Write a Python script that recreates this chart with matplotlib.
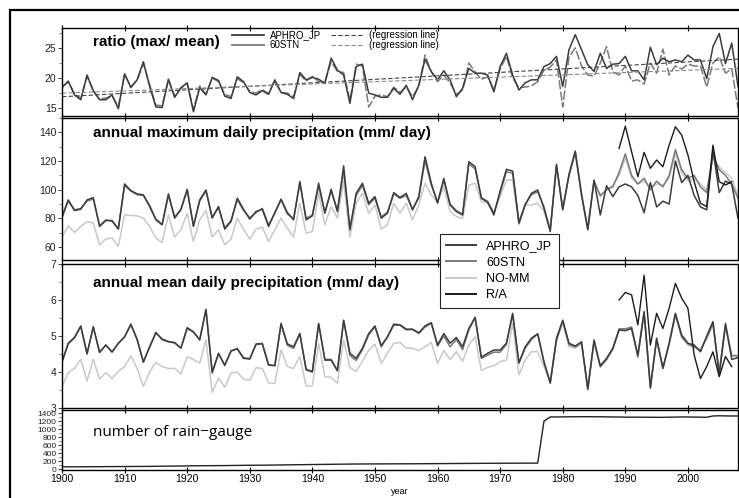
import numpy as np
import matplotlib
matplotlib.use('Agg')
import matplotlib.pyplot as plt
from matplotlib.lines import Line2D
from matplotlib.patches import Rectangle

plt.rcParams['font.family'] = 'Liberation Sans'

years = np.arange(1900, 2009)
ra_years = np.arange(1989, 2008)

# ratio (max/mean)
ratio_aphro = [18.4, 19.5, 17.2, 16.4, 20.5, 17.9, 16.4, 16.4, 17.2, 14.9,
               20.7, 18.4, 19.7, 22.7, 18.6, 15.2, 15.1, 19.8, 16.8, 18.4,
               19.2, 14.4, 18.4, 17.2, 20.1, 19.6, 17.0, 16.6, 20.2, 19.4,
               17.6, 17.2, 17.9, 17.3, 19.7, 17.6, 17.3, 16.6, 20.9, 19.7,
               20.1, 19.8, 19.1, 23.3, 21.3, 20.5, 15.8, 21.9, 22.3, 17.5,
               17.2, 16.8, 16.8, 18.3, 17.3, 18.8, 16.4, 18.8, 23.1, 21.1,
               19.7, 21.2, 19.7, 16.9, 18.3, 21.6, 20.8, 20.8, 20.5, 17.7,
               21.9, 24.1, 20.5, 18.0, 19.2, 19.7, 19.7, 21.9, 22.4, 23.6,
               18.6, 24.7, 27.2, 24.7, 22.2, 21.1, 24.1, 21.6, 22.3, 22.4,
               23.6, 21.2, 21.2, 19.7, 25.1, 22.2, 23.3, 22.7, 23.0, 22.7,
               23.8, 23.0, 23.0, 19.9, 25.2, 27.4, 22.4, 25.8, 18.6]
ratio_60stn = [18.6, 19.3, 17.4, 16.6, 20.3, 17.8, 16.5, 16.7, 17.0, 15.2,
               20.6, 18.6, 19.6, 22.4, 18.9, 15.5, 15.4, 19.7, 17.0, 18.3,
               19.1, 14.8, 18.7, 17.3, 20.0, 19.4, 17.3, 16.9, 19.9, 19.2,
               17.8, 17.5, 18.1, 17.4, 19.5, 17.6, 17.5, 16.9, 20.6, 19.5,
               20.3, 19.4, 19.4, 22.7, 21.1, 20.9, 16.3, 22.3, 22.0, 15.2,
               17.0, 17.2, 16.9, 18.5, 17.6, 18.5, 16.9, 18.6, 23.8, 21.0,
               19.4, 20.5, 19.2, 17.3, 18.0, 22.5, 21.0, 19.8, 20.2, 18.1,
               21.5, 23.6, 20.0, 18.4, 18.5, 18.7, 19.4, 21.3, 21.8, 23.0,
               15.2, 23.5, 25.0, 22.0, 20.5, 20.3, 22.5, 25.2, 21.0, 20.5,
               22.0, 19.5, 19.7, 19.0, 22.5, 20.8, 24.8, 20.5, 22.0, 21.5,
               22.3, 22.0, 22.0, 18.5, 22.5, 23.5, 20.8, 21.5, 15.0]

# annual maximum daily precipitation (mm/day)
max_aphro = [81.3, 92.9, 85.5, 86.4, 92.9, 94.5, 74.4, 78.5, 78.5, 72.5,
             104.0, 99.4, 97.1, 96.4, 88.3, 79.0, 75.5, 97.1, 80.2, 86.4,
             100.3, 74.4, 92.9, 99.9, 80.2, 88.3, 72.5, 77.8, 94.1, 86.4,
             79.5, 84.8, 86.4, 74.4, 84.1, 93.4, 84.1, 79.0, 105.7, 79.0,
             81.8, 104.5, 83.6, 100.3, 84.8, 116.6, 72.1, 97.6, 104.5, 90.6,
             95.2, 80.2, 83.6, 98.0, 94.5, 97.5, 85.9, 95.2, 123.0, 104.5,
             90.6, 107.9, 89.4, 84.8, 82.4, 119.5, 116.1, 94.0, 91.2, 82.4,
             99.1, 114.2, 113.0, 76.6, 89.4, 97.5, 99.8, 87.1, 70.8, 117.7,
             85.9, 110.7, 127.0, 96.3, 72.0, 106.8, 82.4, 102.8, 95.2, 102.0,
             104.0, 102.0, 96.0, 84.0, 105.0, 88.0, 92.0, 90.0, 120.0, 105.0,
             110.0, 96.0, 88.0, 86.0, 128.0, 98.0, 106.0, 104.0, 80.0]
max_60stn = [80.5, 92.0, 86.0, 87.0, 92.0, 93.5, 75.0, 79.0, 78.0, 73.0,
             103.0, 99.0, 96.5, 96.0, 89.0, 79.5, 76.0, 96.0, 81.0, 86.0,
             99.5, 75.0, 92.0, 99.0, 81.0, 87.5, 73.5, 78.5, 93.0, 85.5,
             80.5, 84.0, 87.0, 75.5, 83.5, 93.0, 83.0, 80.0, 104.5, 80.0,
             82.5, 102.5, 84.5, 99.0, 85.5, 113.0, 73.0, 96.0, 103.0, 89.5,
             94.0, 81.0, 84.5, 97.0, 94.0, 96.0, 86.5, 94.0, 120.5, 103.0,
             91.5, 106.5, 90.0, 85.5, 83.0, 118.0, 114.5, 94.5, 92.0, 83.5,
             98.0, 112.5, 111.5, 77.5, 90.0, 96.5, 98.5, 88.0, 72.0, 116.5,
             87.0, 110.0, 126.0, 97.0, 73.0, 106.0, 96.0, 100.0, 102.0, 112.0,
             125.0, 110.0, 104.0, 108.0, 100.0, 106.0, 102.0, 110.0, 128.0, 114.0,
             108.0, 110.0, 102.0, 98.0, 124.0, 114.0, 110.0, 104.0, 94.0]
max_nomm = [67.0, 74.8, 70.2, 74.4, 77.8, 76.7, 61.6, 65.6, 66.3, 60.5,
            82.5, 82.0, 81.8, 80.2, 74.4, 66.3, 63.2, 82.5, 67.0, 72.1,
            83.6, 63.9, 79.0, 85.5, 67.0, 72.1, 61.6, 65.6, 80.2, 72.5,
            65.6, 72.5, 73.9, 63.9, 72.1, 80.2, 73.2, 67.0, 90.6, 69.7,
            70.9, 97.6, 75.5, 88.3, 80.2, 105.7, 67.0, 90.6, 97.6, 83.6,
            89.4, 72.5, 75.5, 90.6, 83.6, 90.6, 79.0, 89.4, 104.5, 96.3,
            91.2, 102.1, 84.8, 81.3, 80.1, 103.3, 104.5, 91.7, 90.6, 84.8,
            95.2, 106.8, 106.8, 75.5, 89.4, 89.4, 90.6, 84.8, 73.0, 116.0,
            86.0, 110.0, 125.0, 97.0, 73.0, 106.0, 95.0, 100.0, 103.0, 110.0,
            122.0, 108.0, 104.0, 106.0, 101.0, 104.0, 103.0, 108.0, 125.0, 112.0,
            106.0, 108.0, 104.0, 100.0, 122.0, 116.0, 112.0, 108.0, 96.0]
max_ra = [128.8, 144.3, 126.5, 109.1, 126.0, 114.9, 120.7, 116.0, 131.1, 143.9,
          138.1, 124.2, 105.6, 90.6, 88.2, 131.1, 105.6, 103.3, 105.6]

# annual mean daily precipitation (mm/day)
mean_aphro = [4.29, 4.80, 4.96, 5.28, 4.50, 5.26, 4.54, 4.75, 4.55, 4.80,
              4.98, 5.33, 4.90, 4.27, 4.70, 5.10, 4.90, 4.84, 4.82, 4.66,
              5.23, 5.12, 4.89, 5.74, 3.98, 4.52, 4.18, 4.59, 4.64, 4.38,
              4.36, 4.78, 4.78, 4.19, 4.18, 5.35, 4.78, 4.70, 5.07, 4.06,
              4.00, 5.35, 4.33, 4.33, 4.03, 5.44, 4.52, 4.38, 4.66, 5.07,
              5.28, 4.73, 4.98, 5.33, 5.31, 5.19, 5.19, 5.09, 5.28, 5.37,
              4.75, 5.07, 4.80, 4.96, 4.70, 5.21, 5.52, 4.41, 4.52, 4.61,
              4.61, 4.80, 5.63, 4.26, 4.70, 4.94, 5.06, 4.29, 3.69, 4.94,
              5.44, 4.80, 4.72, 4.84, 3.52, 4.89, 4.17, 4.38, 4.66, 5.17,
              5.15, 5.21, 4.47, 5.68, 3.55, 4.94, 4.10, 4.80, 5.63, 5.03,
              4.80, 4.75, 4.56, 5.00, 5.40, 3.90, 5.35, 4.35, 4.40]
mean_60stn = [4.27, 4.78, 4.95, 5.26, 4.52, 5.24, 4.56, 4.74, 4.57, 4.79,
              4.97, 5.31, 4.92, 4.29, 4.69, 5.08, 4.92, 4.85, 4.80, 4.67,
              5.21, 5.10, 4.90, 5.72, 4.00, 4.50, 4.20, 4.57, 4.66, 4.40,
              4.37, 4.76, 4.80, 4.21, 4.17, 5.33, 4.74, 4.66, 5.05, 4.08,
              4.02, 5.33, 4.35, 4.35, 4.05, 5.42, 4.46, 4.32, 4.62, 5.03,
              5.25, 4.70, 4.97, 5.30, 5.30, 5.17, 5.18, 5.07, 5.25, 5.35,
              4.72, 5.00, 4.70, 4.90, 4.62, 5.17, 5.50, 4.38, 4.47, 4.55,
              4.55, 4.77, 5.60, 4.24, 4.66, 4.90, 5.06, 4.27, 3.70, 4.88,
              5.40, 4.76, 4.70, 4.82, 3.55, 4.85, 4.15, 4.35, 4.64, 5.20,
              5.20, 5.25, 4.42, 5.65, 3.60, 4.90, 4.12, 4.78, 5.60, 4.98,
              4.78, 4.70, 4.60, 4.95, 5.35, 4.00, 5.30, 4.45, 4.45]
mean_nomm = [3.59, 3.98, 4.10, 4.35, 3.75, 4.36, 3.80, 3.98, 3.82, 4.02,
             4.15, 4.45, 4.10, 3.60, 4.00, 4.27, 4.15, 4.10, 4.10, 3.95,
             4.42, 4.35, 4.25, 4.89, 3.43, 3.83, 3.58, 3.97, 4.00, 3.80,
             3.77, 4.12, 4.10, 3.70, 3.68, 4.61, 4.15, 4.10, 4.43, 3.61,
             3.62, 4.80, 3.87, 3.85, 3.69, 4.89, 4.12, 4.02, 4.30, 4.60,
             4.77, 4.24, 4.52, 4.80, 4.82, 4.66, 4.66, 4.59, 4.70, 4.82,
             4.24, 4.60, 4.35, 4.56, 4.30, 4.75, 4.98, 4.04, 4.13, 4.17,
             4.29, 4.33, 5.35, 3.92, 4.33, 4.56, 4.57, 4.15, 3.73, 4.88,
             5.38, 4.70, 4.66, 4.78, 3.50, 4.82, 4.13, 4.33, 4.62, 5.15,
             5.15, 5.20, 4.40, 5.62, 3.58, 4.88, 4.10, 4.76, 5.58, 4.95,
             4.75, 4.68, 4.62, 4.92, 5.30, 4.02, 5.25, 4.48, 4.45]
mean_ra = [6.00, 6.21, 6.14, 5.31, 6.69, 4.75, 5.63, 5.21, 5.77, 6.46,
           6.05, 5.77, 4.47, 3.82, 4.15, 4.56, 3.87, 4.43, 4.15]

# number of rain-gauge
n_gauge = [55, 55, 56, 56, 57, 58, 58, 60, 60, 62,
           62, 63, 64, 65, 66, 68, 70, 72, 74, 76,
           78, 80, 82, 83, 84, 85, 86, 88, 90, 92,
           94, 95, 96, 98, 100, 102, 104, 106, 108, 110,
           112, 114, 116, 118, 120, 122, 124, 125, 126, 127,
           128, 128, 129, 130, 130, 131, 131, 132, 133, 134,
           135, 136, 137, 138, 139, 140, 141, 142, 143, 144,
           145, 145, 146, 146, 147, 147, 148, 1200, 1305, 1305,
           1308, 1310, 1310, 1312, 1312, 1310, 1310, 1308, 1305, 1305,
           1300, 1300, 1300, 1298, 1298, 1296, 1296, 1300, 1302, 1305,
           1305, 1302, 1300, 1298, 1330, 1335, 1332, 1330, 1330]

c_aphro = '#3c3c3c'
c_60stn = '#7a7a7a'
c_nomm = '#c9c9c9'
c_ra = '#1c1c1c'

W, H = 739, 498
fig = plt.figure(figsize=(W / 100, H / 100), dpi=100)

def make_ax(top, bottom):
    ax = fig.add_axes([62 / W, 1 - bottom / H, 676 / W, (bottom - top) / H])
    ax.set_xlim(1900, 2008)
    ax.set_xticks(np.arange(1900, 2001, 10))
    ax.tick_params(axis='x', which='both', direction='inout', length=4, width=0.8,
                   top=True, bottom=True, labelbottom=False, labelsize=7.5)
    ax.tick_params(axis='y', which='major', direction='out', length=3, width=0.6,
                   labelsize=7.5, pad=1, colors='#222222')
    ax.tick_params(axis='y', which='minor', direction='out', length=2, width=0.5,
                   colors='#555555')
    for s in ax.spines.values():
        s.set_linewidth(1.0)
    return ax

# panel 1: ratio
ax1 = make_ax(28, 116)
ax1.plot(years, ratio_60stn, color=c_60stn, lw=1.1, dashes=(6, 1.5))
ax1.plot(years, ratio_aphro, color=c_aphro, lw=1.1)
yrs = np.asarray(years, dtype=float)
p1 = np.polyfit(yrs, ratio_aphro, 1)
p2 = np.polyfit(yrs, ratio_60stn, 1)
ax1.plot(yrs, np.polyval(p1, yrs), color='#444444', lw=0.8, dashes=(4, 2))
ax1.plot(yrs, np.polyval(p2, yrs), color='#8a8a8a', lw=0.8, dashes=(4, 2))
ax1.set_ylim(13.7, 28.3)
ax1.set_yticks([15, 20, 25])
ax1.set_yticks(np.arange(15, 28, 2.5), minor=True)
ax1.text(93 / W, 1 - 42 / H, 'ratio (max/ mean)', transform=fig.transFigure,
         fontsize=11, fontweight='bold', va='center', ha='left')
h1 = [Line2D([], [], color=c_aphro, lw=1.3),
      Line2D([], [], color=c_60stn, lw=1.3),
      Line2D([], [], color='#444444', lw=0.8, dashes=(4, 2)),
      Line2D([], [], color='#8a8a8a', lw=0.8, dashes=(4, 2))]
ax1.legend(h1, ['APHRO_JP', '60STN', '(regression line)', '(regression line)'],
           ncol=2, frameon=False, fontsize=7, loc='upper left',
           bbox_to_anchor=(230 / W, 1 - 28 / H), bbox_transform=fig.transFigure,
           handlelength=3.3, handletextpad=0.6, columnspacing=1.0,
           labelspacing=0.05, borderpad=0.2, borderaxespad=0)

# panel 2: annual maximum
ax2 = make_ax(118, 260)
ax2.plot(years, max_nomm, color=c_nomm, lw=1.1)
ax2.plot(years, max_60stn, color=c_60stn, lw=1.1)
ax2.plot(years, max_aphro, color=c_aphro, lw=1.1)
ax2.plot(ra_years, max_ra, color=c_ra, lw=1.0)
ax2.set_ylim(51, 150)
ax2.set_yticks(np.arange(60, 141, 20))
ax2.set_yticks(np.arange(60, 151, 10), minor=True)
ax2.text(93 / W, 1 - 133 / H, 'annual maximum daily precipitation (mm/ day)',
         transform=fig.transFigure, fontsize=11, fontweight='bold',
         va='center', ha='left')

# panel 3: annual mean
ax3 = make_ax(264, 408)
ax3.plot(years, mean_nomm, color=c_nomm, lw=1.1)
ax3.plot(years, mean_60stn, color=c_60stn, lw=1.1)
ax3.plot(years, mean_aphro, color=c_aphro, lw=1.1)
ax3.plot(ra_years, mean_ra, color=c_ra, lw=1.0)
ax3.set_ylim(3, 7)
ax3.set_yticks([3, 4, 5, 6, 7])
ax3.set_yticks(np.arange(3, 7.01, 0.5), minor=True)
ax3.text(93 / W, 1 - 283 / H, 'annual mean daily precipitation (mm/ day)',
         transform=fig.transFigure, fontsize=11, fontweight='bold',
         va='center', ha='left')

# panel 4: number of rain-gauge
ax4 = make_ax(410, 470)
ax4.plot(years, n_gauge, color='#222222', lw=1.0)
ax4.set_ylim(-25, 1480)
ax4.set_yticks(np.arange(0, 1401, 200))
ax4.set_yticks(np.arange(0, 1451, 100), minor=True)
ax4.tick_params(axis='y', which='major', labelsize=6, pad=1)
ax4.tick_params(axis='x', labelbottom=True, pad=1)
ax4.set_xlabel('year', fontsize=6.5, labelpad=2)
ax4.text(93 / W, 1 - 432 / H, 'number of rain\u2212gauge', transform=fig.transFigure,
         fontsize=11, family='Open Sans', va='center', ha='left')

# legend for panels 2/3
h2 = [Line2D([], [], color=c_aphro, lw=1.4),
      Line2D([], [], color=c_60stn, lw=1.4),
      Line2D([], [], color=c_nomm, lw=1.4),
      Line2D([], [], color=c_ra, lw=1.4)]
leg = fig.legend(h2, ['APHRO_JP', '60STN', 'NO-MM', 'R/A'], loc='upper left',
                 bbox_to_anchor=(440 / W, 1 - 234 / H), fontsize=9,
                 fancybox=False, edgecolor='#222222', framealpha=1,
                 handlelength=2.4, handletextpad=0.8, labelspacing=0.35,
                 borderpad=0.5, borderaxespad=0)
leg.get_frame().set_linewidth(0.8)
leg.set_zorder(10)

# outer frame
fig.patches.append(Rectangle((10 / W, -0.1), 1.2, 1.1 - 10 / H, transform=fig.transFigure,
                             fill=False, lw=1.6, edgecolor='black'))

fig.savefig('out.png', dpi=100)
